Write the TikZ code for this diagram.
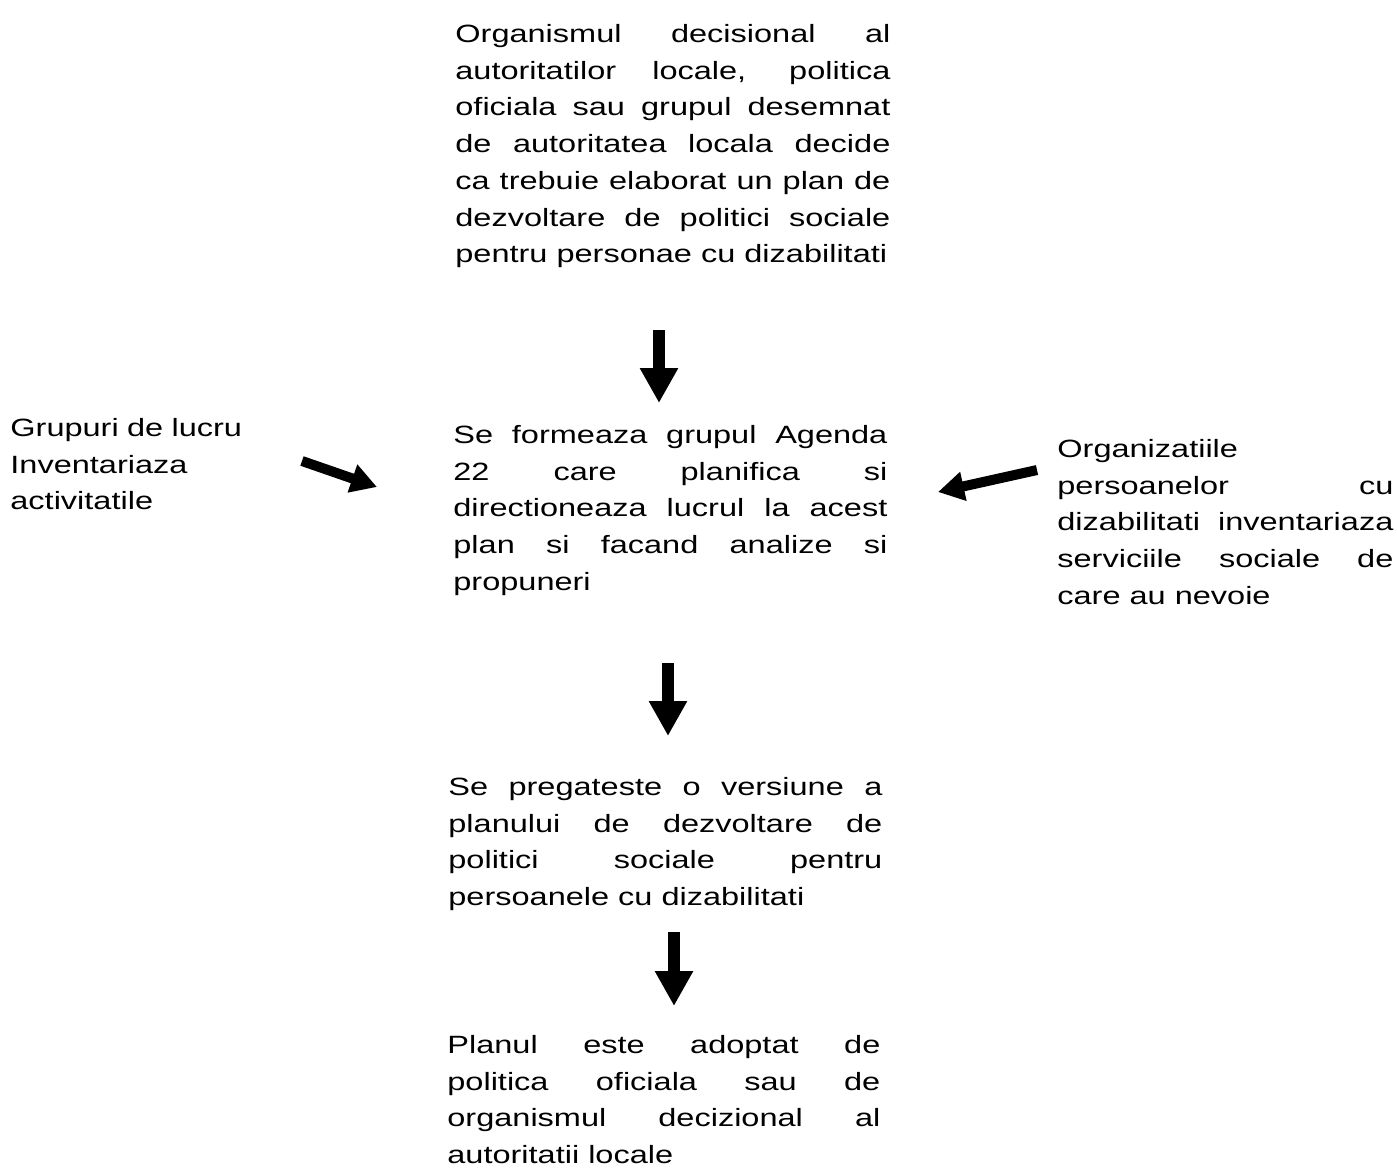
\documentclass[tikz,border=0pt]{standalone}
\usepackage{fontspec}
\setmainfont{Liberation Sans}[FakeStretch=1.3]
\usetikzlibrary{arrows.meta}

\begin{document}
\begin{tikzpicture}[
			x=0.5pt, y=-0.5pt,
			para/.style={
				anchor=north west,
				inner sep=0pt,
				align=justify,
				font=\fontsize{12.5}{18.35}\selectfont
			},
			arrow/.style={
				-{Triangle[length=17.5pt,width=18pt]},
				line width=6pt
			},
			sidearrow/.style={
				-{Triangle[length=13pt,width=14pt]},
				line width=5pt
			}
			]
			
			\useasboundingbox (0,0) rectangle (1397,1169);
			
			% Nodes
			\node[para, text width=217.5pt] (decide) at (455,24) {Organismul decisional al\linebreak
				autoritatilor locale, politica\linebreak
				oficiala sau grupul desemnat\linebreak
				de autoritatea locala decide\linebreak
				ca trebuie elaborat un plan de\linebreak
				dezvoltare de politici sociale\linebreak
				pentru personae cu dizabilitati};
			\node[para, text width=217pt] (agenda) at (453,425) {Se formeaza grupul Agenda\linebreak
				22 care planifica si\linebreak
				directioneaza lucrul la acest\linebreak
				plan si facand analize si\linebreak
				propuneri};
			\node[para, text width=125pt, align=left] (grupuri) at (10,418) {Grupuri de lucru\\
				Inventariaza\\
				activitatile};
			\node[para, text width=168pt] (org) at (1057,439) {Organizatiile\\
				persoanelor cu\linebreak
				dizabilitati inventariaza\linebreak
				serviciile sociale de\linebreak
				care au nevoie};
			\node[para, text width=217pt] (versiune) at (448,777) {Se pregateste o versiune a\linebreak
				planului de dezvoltare de\linebreak
				politici sociale pentru\linebreak
				persoanele cu dizabilitati};
			\node[para, text width=216.5pt] (adoptat) at (447,1035) {Planul este adoptat de\linebreak
				politica oficiala sau de\linebreak
				organismul decizional al\linebreak
				autoritatii locale};
			
			% Arrow ends
			\coordinate (d1s) at (659,330);
			\coordinate (d1e) at (659,403);
			\coordinate (d2s) at (668,663);
			\coordinate (d2e) at (668,736);
			\coordinate (d3s) at (674,932);
			\coordinate (d3e) at (674,1006);
			\coordinate (ls) at (302,461);
			\coordinate (le) at (377,487);
			\coordinate (rs) at (1037,470);
			\coordinate (re) at (938,492);
			
			% Arrows
			\draw[arrow] (d1s) -- (d1e);
			\draw[arrow] (d2s) -- (d2e);
			\draw[arrow] (d3s) -- (d3e);
			\draw[sidearrow] (ls) -- (le);
			\draw[sidearrow] (rs) -- (re);
			
		\end{tikzpicture}
\end{document}
